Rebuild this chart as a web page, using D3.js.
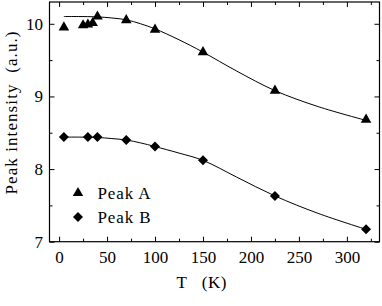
<!DOCTYPE html>
<html>
<head>
<meta charset="utf-8">
<script src="https://d3js.org/d3.v7.min.js"></script>
<style>
  body { margin: 0; background: #fff; }
  svg text { fill: #000; }
</style>
</head>
<body>
<script>
// measured points
const tempA = [5, 25, 30, 35, 40, 70, 100, 150, 225, 320];
const peakA = [9.95, 9.98, 9.99, 10.01, 10.10, 10.05, 9.92, 9.61, 9.08, 8.68];
const tempB = [5, 30, 40, 70, 100, 150, 225, 320];
const peakB = [8.44, 8.44, 8.44, 8.40, 8.31, 8.12, 7.63, 7.17];

// fit curves
const fitTA = [5, 20, 40, 55, 70, 85, 100, 125, 150, 185, 225, 270, 320];
const fitA = [10.10, 10.10, 10.095, 10.08, 10.055, 10.00, 9.93, 9.78, 9.61, 9.35, 9.08, 8.86, 8.67];
const fitTB = [5, 20, 40, 55, 70, 85, 100, 125, 150, 185, 225, 270, 320];
const fitB = [8.44, 8.44, 8.435, 8.42, 8.40, 8.36, 8.31, 8.22, 8.12, 7.89, 7.63, 7.39, 7.17];

const xMajor = [0, 50, 100, 150, 200, 250, 300];
const xMinor = [25, 75, 125, 175, 225, 275, 325];
const yMajor = [7, 8, 9, 10];
const yMinor = [7.5, 8.5, 9.5];

const W = 382, H = 306;
const m = {left: 49.5, top: 2, right: 2.5, bottom: 64.3};
const iw = W - m.left - m.right, ih = H - m.top - m.bottom;
const FONT = "'Liberation Serif', 'Times New Roman', serif";

const svg = d3.select("body").append("svg").attr("width", W).attr("height", H);
const g = svg.append("g").attr("transform", `translate(${m.left},${m.top})`);

const x = d3.scaleLinear().domain([-10, 334]).range([0, iw]);
const y = d3.scaleLinear().domain([7, 10.3]).range([ih, 0]);

function styleAxis(sel) {
  sel.attr("font-family", FONT).attr("font-size", 17);
  sel.select(".domain").remove();
  sel.selectAll("line").attr("stroke", "#000").attr("stroke-width", 1);
}

// bottom / top
g.append("g").attr("transform", `translate(0,${ih})`)
  .call(d3.axisBottom(x).tickValues(xMajor).tickSizeInner(-5).tickSizeOuter(0).tickPadding(9))
  .call(styleAxis);
g.append("g").attr("transform", `translate(0,${ih})`)
  .call(d3.axisBottom(x).tickValues(xMinor).tickSizeInner(-3).tickSizeOuter(0).tickFormat(""))
  .call(styleAxis);
g.append("g")
  .call(d3.axisTop(x).tickValues(xMajor).tickSizeInner(-5).tickSizeOuter(0).tickFormat(""))
  .call(styleAxis);
g.append("g")
  .call(d3.axisTop(x).tickValues(xMinor).tickSizeInner(-3).tickSizeOuter(0).tickFormat(""))
  .call(styleAxis);

// left / right
g.append("g")
  .call(d3.axisLeft(y).tickValues(yMajor).tickSizeInner(-5).tickSizeOuter(0).tickPadding(6.5).tickFormat(d3.format("d")))
  .call(styleAxis);
g.append("g")
  .call(d3.axisLeft(y).tickValues(yMinor).tickSizeInner(-3).tickSizeOuter(0).tickFormat(""))
  .call(styleAxis);
g.append("g").attr("transform", `translate(${iw},0)`)
  .call(d3.axisRight(y).tickValues(yMajor).tickSizeInner(-5).tickSizeOuter(0).tickFormat(""))
  .call(styleAxis);
g.append("g").attr("transform", `translate(${iw},0)`)
  .call(d3.axisRight(y).tickValues(yMinor).tickSizeInner(-3).tickSizeOuter(0).tickFormat(""))
  .call(styleAxis);

g.append("rect").attr("width", iw).attr("height", ih)
  .attr("fill", "none").attr("stroke", "#000").attr("stroke-width", 1.2);

// fit lines
const line = d3.line().x(d => x(d[0])).y(d => y(d[1])).curve(d3.curveCatmullRom.alpha(0.5));
g.append("path").datum(d3.zip(fitTA, fitA)).attr("d", line)
  .attr("fill", "none").attr("stroke", "#000").attr("stroke-width", 1);
g.append("path").datum(d3.zip(fitTB, fitB)).attr("d", line)
  .attr("fill", "none").attr("stroke", "#000").attr("stroke-width", 1);

// markers
const tri = d3.symbol(d3.symbolTriangle, 48)();
const dia = d3.symbol(d3.symbolSquare, 50)();
g.selectAll(".ptA").data(d3.zip(tempA, peakA)).join("path")
  .attr("d", tri).attr("transform", d => `translate(${x(d[0])},${y(d[1])})`).attr("fill", "#000");
g.selectAll(".ptB").data(d3.zip(tempB, peakB)).join("path")
  .attr("d", dia).attr("transform", d => `translate(${x(d[0])},${y(d[1])}) rotate(45)`).attr("fill", "#000");

// legend
svg.append("path").attr("d", tri).attr("transform", "translate(78,193)");
svg.append("path").attr("d", dia).attr("transform", "translate(78,217) rotate(45)");
svg.append("text").attr("x", 97.5).attr("y", 199).attr("font-family", FONT).attr("font-size", 17)
  .attr("textLength", 53).attr("lengthAdjust", "spacing").text("Peak A");
svg.append("text").attr("x", 97.5).attr("y", 223).attr("font-family", FONT).attr("font-size", 17)
  .attr("textLength", 53).attr("lengthAdjust", "spacing").text("Peak B");

// axis titles
svg.append("text").attr("x", 176.5).attr("y", 288).attr("font-family", FONT).attr("font-size", 17)
  .style("white-space", "pre").attr("textLength", 50).attr("lengthAdjust", "spacing").text("T   (K)");
svg.append("text").attr("transform", "translate(16.5,113) rotate(-90)")
  .attr("text-anchor", "middle").attr("font-family", FONT).attr("font-size", 17).style("white-space", "pre")
  .attr("textLength", 163).attr("lengthAdjust", "spacing").text("Peak intensity  (a.u.)");
</script>
</body>
</html>
